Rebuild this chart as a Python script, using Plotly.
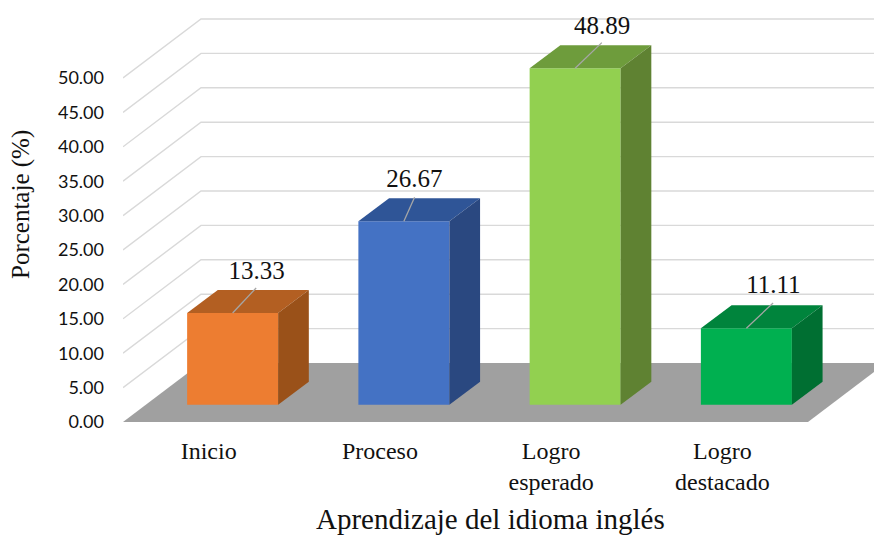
import plotly.graph_objects as go

categories = ["Inicio", "Proceso", "Logro<br>esperado", "Logro<br>destacado"]
values = [13.33, 26.67, 48.89, 11.11]
y_ticks = [0, 5, 10, 15, 20, 25, 30, 35, 40, 45, 50]
front_colors = ["#ED7D31", "#4472C4", "#92D050", "#00B050"]
top_colors = ["#B35F22", "#2F5597", "#6E9C3C", "#00843C"]
side_colors = ["#9A5119", "#2A4880", "#5F8232", "#006F32"]

# pixel scale of the axes, used to express the oblique projection in data units
W, H = 874, 536
ML, MB = 123, 114
PX_X = 171.25
PX_Y = 6.88
X0 = -0.5
X1 = X0 + (W - ML) / PX_X
Y1 = (H - MB) / PX_Y
wall_dx, wall_dy = 78 / PX_X, 59 / PX_Y
depth_dx, depth_dy = 30.7 / PX_X, 23 / PX_Y
bar_width = 91 / PX_X
bar_shift = 24 / PX_X
bar_base = 17.3 / PX_Y
# leader-line and label offsets from each bar's top-front centre, in pixels
leader_px_x = [23.5, 10.7, 26.7, 26.7]
leader_px_y = [25, 24, 25.7, 25.3]
label_px_x = [24, 10.5, 27, 27]
label_px_y = [40, 40, 41, 41.5]
label_font = dict(family="Liberation Serif", size=25, color="#111111")
n = len(categories)
xs = list(range(n))

fig = go.Figure()

# front faces
fig.add_trace(go.Bar(
    x=[i + bar_shift for i in xs], y=values, base=[bar_base] * n, width=bar_width,
    marker=dict(color=front_colors, line=dict(width=0)), hoverinfo="y", showlegend=False,
))

# top and side faces
for i, v in zip(xs, values):
    l = i + bar_shift - bar_width / 2
    r = i + bar_shift + bar_width / 2
    t = bar_base + v
    fig.add_trace(go.Scatter(
        x=[l, r, r + depth_dx, l + depth_dx, l], y=[t, t, t + depth_dy, t + depth_dy, t],
        mode="lines", fill="toself", fillcolor=top_colors[i], line=dict(width=0),
        hoverinfo="skip", showlegend=False,
    ))
    fig.add_trace(go.Scatter(
        x=[r, r + depth_dx, r + depth_dx, r, r],
        y=[bar_base, bar_base + depth_dy, t + depth_dy, t, bar_base],
        mode="lines", fill="toself", fillcolor=side_colors[i], line=dict(width=0),
        hoverinfo="skip", showlegend=False,
    ))
    c = i + bar_shift
    fig.add_trace(go.Scatter(
        x=[c, c + leader_px_x[i] / PX_X], y=[t, t + leader_px_y[i] / PX_Y], mode="lines",
        line=dict(color="#A6A6A6", width=1.3), hoverinfo="skip", showlegend=False,
    ))

# value labels
fig.add_trace(go.Scatter(
    x=[i + bar_shift + label_px_x[i] / PX_X for i in xs],
    y=[bar_base + v + label_px_y[i] / PX_Y for i, v in zip(xs, values)],
    mode="text", text=[f"{v:.2f}" for v in values], textposition="middle center",
    textfont=label_font, hoverinfo="skip", showlegend=False,
))

# floor and walls
shapes = [dict(
    type="path", layer="below", xref="x", yref="y",
    path=f"M {X0} 0 L {n + X0} 0 L {n + X0 + wall_dx} {wall_dy} L {X0 + wall_dx} {wall_dy} Z",
    fillcolor="#A0A0A0", line=dict(width=0),
)]
for tick in y_ticks[1:]:
    shapes.append(dict(
        type="path", layer="below", xref="x", yref="y",
        path=f"M {X0} {tick} L {X0 + wall_dx} {tick + wall_dy} L {n + X0 + wall_dx} {tick + wall_dy}",
        line=dict(color="#D9D9D9", width=1.4),
    ))

annotations = [
    dict(text="Aprendizaje del idioma inglés", xref="paper", yref="paper",
         x=(490 - ML) / (W - ML), y=-(518.5 - (H - MB)) / (H - MB), showarrow=False,
         xanchor="center", yanchor="middle",
         font=dict(family="Liberation Serif", size=29, color="#111111")),
    dict(text="Porcentaje (%)", xref="paper", yref="paper",
         x=(21 - ML) / (W - ML), y=-(205 - (H - MB)) / (H - MB), showarrow=False,
         textangle=-90, xanchor="center", yanchor="middle",
         font=dict(family="Liberation Serif", size=25, color="#111111")),
]

fig.update_layout(
    width=W, height=H, autosize=False,
    margin=dict(l=ML, r=0, t=0, b=MB, pad=0),
    paper_bgcolor="white", plot_bgcolor="white", showlegend=False,
    shapes=shapes, annotations=annotations,
    xaxis=dict(
        range=[X0, X1], tickmode="array", tickvals=xs, ticktext=categories,
        showgrid=False, zeroline=False, showline=False, ticks="",
        ticklabelstandoff=12,
        tickfont=dict(family="Liberation Serif", size=24, color="#111111"),
    ),
    yaxis=dict(
        range=[0, Y1], tickmode="array", tickvals=y_ticks, tickformat=".2f",
        showgrid=False, zeroline=False, showline=False, ticks="",
        ticklabelstandoff=18,
        tickfont=dict(family="Lato", size=18, color="#111111"),
    ),
)

fig.write_html("out.html", config=dict(displayModeBar=False),
               post_script="document.body.style.margin='0';")
